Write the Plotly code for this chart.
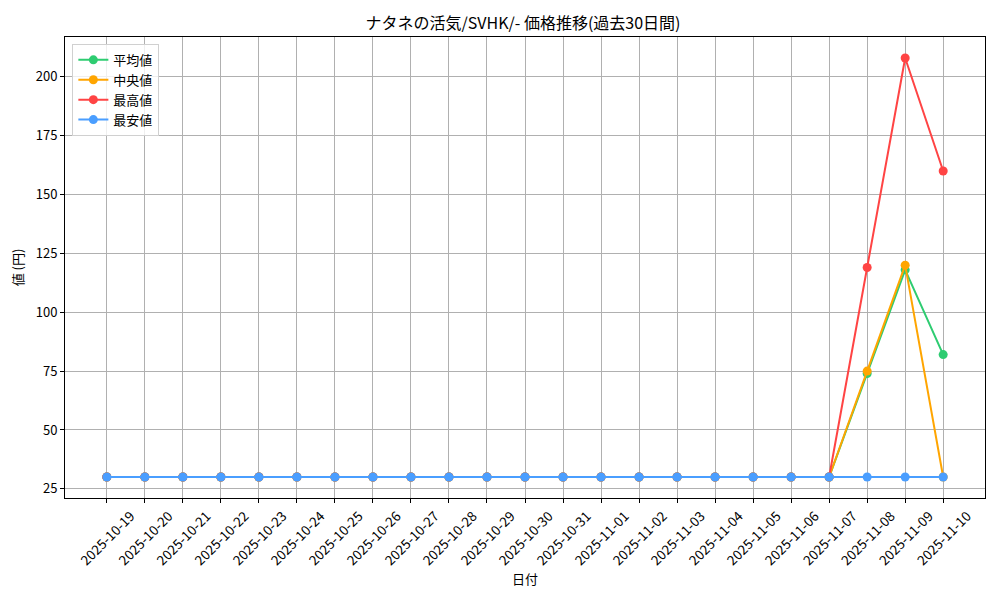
import plotly.graph_objects as go

dates = ["2025-10-19", "2025-10-20", "2025-10-21", "2025-10-22", "2025-10-23",
         "2025-10-24", "2025-10-25", "2025-10-26", "2025-10-27", "2025-10-28",
         "2025-10-29", "2025-10-30", "2025-10-31", "2025-11-01", "2025-11-02",
         "2025-11-03", "2025-11-04", "2025-11-05", "2025-11-06", "2025-11-07",
         "2025-11-08", "2025-11-09", "2025-11-10"]
avg_vals = [30]*20 + [74, 118, 82]
median_vals = [30]*20 + [75, 120, 30]
max_vals = [30]*20 + [119, 208, 160]
min_vals = [30]*20 + [30, 30, 30]

series_names = ["平均値", "中央値", "最高値", "最安値"]
series_colors = ["#2ecc71", "#ffa500", "#ff4444", "#4a9eff"]
series_data = [avg_vals, median_vals, max_vals, min_vals]

FONT = "Noto Sans CJK JP"

fig = go.Figure()
for name, color, vals in zip(series_names, series_colors, series_data):
    fig.add_trace(go.Scatter(
        x=dates, y=vals, name=name, mode="lines+markers",
        line=dict(color=color, width=2),
        marker=dict(color=color, size=9),
    ))

fig.update_layout(
    width=1000, height=600,
    paper_bgcolor="white", plot_bgcolor="white",
    font=dict(family=FONT, size=13, color="black"),
    margin=dict(l=57, r=23, t=29, b=110, autoexpand=False),
    title=dict(text="ナタネの活気/SVHK/- 価格推移(過去30日間)", x=0.515, xanchor="center",
               y=0.975, yanchor="middle", font=dict(size=16, family=FONT)),
    showlegend=True,
    legend=dict(x=0.008, y=0.985, xanchor="left", yanchor="top",
                bgcolor="rgba(255,255,255,0.8)", bordercolor="#d0d0d0", borderwidth=1,
                font=dict(size=13, family=FONT), itemwidth=30, tracegroupgap=0),
)
fig.update_xaxes(
    type="category", range=[-1.1, 23.1], automargin=False,
    title=dict(text="日付", font=dict(size=13), standoff=4),
    tickangle=-45, tickfont=dict(size=13.5), ticklabelshift=24,
    showgrid=True, gridcolor="#b0b0b0", gridwidth=1,
    showline=True, linecolor="black", linewidth=1, mirror=True,
    ticks="outside", ticklen=4, tickcolor="black",
    zeroline=False,
)
fig.update_yaxes(
    range=[21.1, 216.9], automargin=False,
    tickvals=[25, 50, 75, 100, 125, 150, 175, 200],
    title=dict(text="値 (円)", font=dict(size=13), standoff=14),
    tickfont=dict(size=13),
    showgrid=True, gridcolor="#b0b0b0", gridwidth=1,
    showline=True, linecolor="black", linewidth=1, mirror=True,
    ticks="outside", ticklen=4, tickcolor="black",
    zeroline=False,
)

fig.write_html("out.html")
